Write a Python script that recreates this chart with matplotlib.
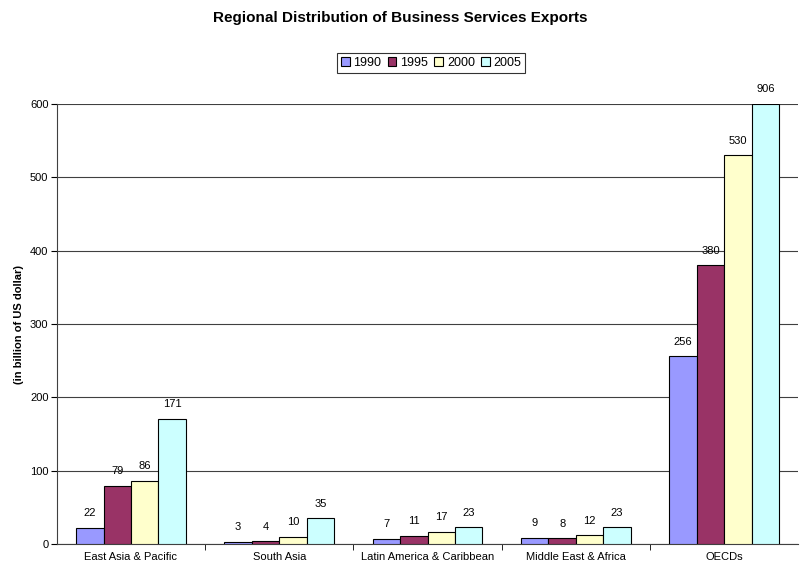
import numpy as np
import matplotlib
matplotlib.use("Agg")
import matplotlib.pyplot as plt

plt.rcParams['font.family'] = ['Liberation Sans', 'DejaVu Sans']

regions = ["East Asia & Pacific", "South Asia", "Latin America & Caribbean",
           "Middle East & Africa", "OECDs"]
years = ["1990", "1995", "2000", "2005"]
v1990 = [22, 3, 7, 9, 256]
v1995 = [79, 4, 11, 8, 380]
v2000 = [86, 10, 17, 12, 530]
v2005 = [171, 35, 23, 23, 906]
colors = ["#9999FF", "#993366", "#FFFFCC", "#CCFFFF"]

ymax = 600

fig = plt.figure(figsize=(8, 5.71), dpi=100)
ax = fig.add_axes([0.071, 0.047, 0.927, 0.771])

x = np.arange(len(regions))
w = 0.185
series = [v1990, v1995, v2000, v2005]
for i, vals in enumerate(series):
    pos = x + (i - 1.5) * w
    shown = [min(v, ymax) for v in vals]
    ax.bar(pos, shown, w, color=colors[i], edgecolor='black', linewidth=0.8,
           label=years[i], zorder=3)
    for p, s, v in zip(pos, shown, vals):
        ax.annotate(str(v), (p, s), xytext=(0, 7), textcoords='offset points',
                    ha='center', va='bottom', fontsize=8, clip_on=False)

ax.set_xlim(-0.5, len(regions) - 0.5)
ax.set_ylim(0, ymax)
ax.set_yticks(range(0, 601, 100))
ax.tick_params(axis='y', labelsize=8, length=4, direction='out', pad=2)
ax.set_xticks(x)
ax.set_xticklabels(regions, fontsize=8)
ax.tick_params(axis='x', length=0, pad=6)
ax.set_xticks(np.arange(0.5, len(regions) - 0.5, 1), minor=True)
ax.tick_params(axis='x', which='minor', length=4, direction='out')
ax.yaxis.grid(True, color='#404040', linewidth=0.8, zorder=0)
ax.set_axisbelow(True)
for s in ['top', 'right']:
    ax.spines[s].set_visible(False)
ax.spines['left'].set_color('#404040')
ax.spines['bottom'].set_color('#404040')

ax.set_ylabel("(in billion of US dollar)", fontsize=8, fontweight='bold', labelpad=4)

fig.text(0.5, 0.968, "Regional Distribution of Business Services Exports",
         ha='center', va='center', fontsize=11, fontweight='bold')

leg = fig.legend(loc='center', bbox_to_anchor=(0.539, 0.89), ncol=4,
                 fontsize=9, frameon=True, fancybox=False, handlelength=0.7,
                 handleheight=0.7, handletextpad=0.3, columnspacing=0.5,
                 borderpad=0.3, edgecolor='black')
leg.get_frame().set_linewidth(0.8)

fig.savefig("out.png", dpi=100)
